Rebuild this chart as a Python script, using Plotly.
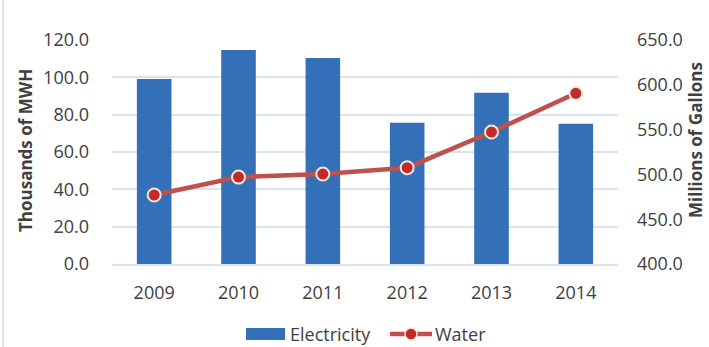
import plotly.graph_objects as go

years = ["2009", "2010", "2011", "2012", "2013", "2014"]
electricity = [99.1, 114.6, 110.4, 75.7, 91.8, 75.2]   # thousands of MWH
water = [477.0, 497.0, 500.4, 507.5, 547.3, 590.5]     # millions of gallons

W, H = 709, 347
L, R, T, B = 112, 91, 40, 83
PW, PH = W - L - R, H - T - B

def px_x(p):
    return (p - L) / PW

def px_y(p):
    return (H - B - p) / PH

FONT = "Open Sans"
TXT = "#404040"
GRID = "#D9E3F1"
FS = 18

fig = go.Figure()
fig.add_trace(go.Bar(
    x=years, y=electricity, name="Electricity",
    marker=dict(color="#3470B8", line=dict(width=0)),
    yaxis="y", showlegend=False,
))
fig.add_trace(go.Scatter(
    x=years, y=water, name="Water", mode="lines+markers",
    line=dict(color="#C0504D", width=4.5),
    marker=dict(size=13, color="#C42A2A", line=dict(color="#EFE9DD", width=2)),
    yaxis="y2", showlegend=False,
))

shapes = []
annotations = []
# left chart border
shapes.append(dict(type="line", xref="paper", yref="paper",
                   x0=px_x(3), x1=px_x(3), y0=px_y(H), y1=px_y(0),
                   line=dict(color="#D5DCE6", width=1.5)))
# legend: Electricity swatch
shapes.append(dict(type="rect", xref="paper", yref="paper",
                   x0=px_x(246), x1=px_x(285), y0=px_y(340), y1=px_y(328),
                   fillcolor="#3470B8", line=dict(width=0)))
annotations.append(dict(text="Electricity", xref="paper", yref="paper",
                        x=px_x(288), y=px_y(334), xanchor="left", yanchor="middle",
                        showarrow=False, font=dict(family=FONT, size=FS, color=TXT)))
# legend: Water
shapes.append(dict(type="line", xref="paper", yref="paper",
                   x0=px_x(390), x1=px_x(432), y0=px_y(334), y1=px_y(334),
                   line=dict(color="#C0504D", width=4.5)))
shapes.append(dict(type="circle", xref="paper", yref="paper",
                   x0=px_x(405), x1=px_x(417), y0=px_y(340), y1=px_y(328),
                   fillcolor="#C42A2A", line=dict(color="#EFE9DD", width=1.5)))
annotations.append(dict(text="Water", xref="paper", yref="paper",
                        x=px_x(433), y=px_y(334), xanchor="left", yanchor="middle",
                        showarrow=False, font=dict(family=FONT, size=FS, color=TXT)))
# axis titles
annotations.append(dict(text="<b>Thousands of MWH</b>", xref="paper", yref="paper",
                        x=px_x(25), y=px_y(151), xanchor="center", yanchor="middle",
                        textangle=-90, showarrow=False,
                        font=dict(family=FONT, size=17, color=TXT)))
annotations.append(dict(text="<b>Millions of Gallons</b>", xref="paper", yref="paper",
                        x=px_x(695), y=px_y(140), xanchor="center", yanchor="middle",
                        textangle=-90, showarrow=False,
                        font=dict(family=FONT, size=17, color=TXT)))

fig.update_layout(
    width=W, height=H,
    margin=dict(l=L, r=R, t=T, b=B, pad=0),
    paper_bgcolor="white", plot_bgcolor="white",
    font=dict(family=FONT, size=FS, color=TXT),
    bargap=0.59,
    showlegend=False,
    shapes=shapes, annotations=annotations,
    xaxis=dict(type="category", showgrid=False, showline=True, linecolor=GRID,
               linewidth=1.5, ticks="", ticklabelstandoff=12,
               tickfont=dict(family=FONT, size=FS, color=TXT)),
    yaxis=dict(range=[0, 120], dtick=20, tickformat=".1f", showgrid=True,
               gridcolor=GRID, gridwidth=1.5, zeroline=False, showline=False,
               ticks="", ticklabelstandoff=22,
               tickfont=dict(family=FONT, size=FS, color=TXT)),
    yaxis2=dict(range=[400, 650], dtick=50, tickformat=".1f", overlaying="y",
                side="right", showgrid=False, zeroline=False, showline=False,
                ticks="", ticklabelstandoff=18,
                tickfont=dict(family=FONT, size=FS, color=TXT)),
)

fig.write_html("out.html")
